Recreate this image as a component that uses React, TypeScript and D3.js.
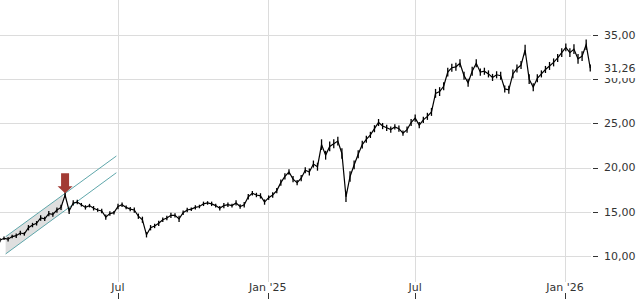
import React from "react";
import * as d3 from "d3";

const W = 640;
const H = 300;

// sampled every 5 calendar days starting 2024-02-07
const startDate = new Date(2024, 1, 7);
const stepDays = 5;
const closes = [
  11.8, 12.0, 11.9, 12.2, 12.3, 12.6, 12.5, 13.2, 13.5, 13.7,
  14.3, 14.2, 14.8, 14.7, 15.2, 15.5, 16.9, 15.1, 16.0, 16.1,
  15.8, 15.5, 15.7, 15.4, 15.2, 15.1, 14.4, 14.8, 14.9, 15.6,
  15.8, 15.5, 15.3, 15.2, 14.5, 14.1, 12.4, 13.2, 13.4, 13.7,
  14.1, 14.3, 14.6, 14.6, 14.2, 14.9, 15.2, 15.3, 15.5, 15.6,
  15.9, 16.0, 15.9, 15.7, 15.4, 15.7, 15.8, 15.7, 16.0, 15.6,
  15.8, 16.7, 17.1, 16.9, 16.8, 16.1, 16.6, 16.9, 17.4, 18.3,
  19.0, 19.5, 18.7, 18.3, 18.8, 19.7, 19.5, 20.4, 20.1, 22.6,
  21.4, 22.4, 22.7, 23.0, 21.6, 16.7, 19.0, 20.3, 21.5, 22.6,
  23.2, 23.7, 24.4, 25.1, 24.7, 24.5, 24.3, 24.6, 24.4, 23.9,
  24.3, 25.1, 25.6, 24.8, 25.4, 25.8, 26.3, 28.4, 28.6, 29.2,
  30.8, 31.3, 31.4, 31.8, 30.4, 29.6, 30.9, 31.8, 30.8, 30.9,
  30.6, 30.2, 30.5, 30.4, 28.9, 28.8, 30.6, 31.2, 31.6, 33.3,
  30.0, 29.1, 30.1, 30.6, 31.1, 31.5, 31.9, 32.4, 33.0, 33.6,
  33.0, 33.4, 32.3, 32.6, 33.9, 31.26,
];
// half of the daily high-low range around each sample
const halfRanges = [
  0.25, 0.2, 0.25, 0.2, 0.25, 0.25, 0.2, 0.3, 0.25, 0.25,
  0.3, 0.25, 0.3, 0.25, 0.3, 0.3, 0.3, 0.35, 0.3, 0.25,
  0.2, 0.25, 0.2, 0.25, 0.2, 0.25, 0.3, 0.25, 0.2, 0.3,
  0.25, 0.2, 0.25, 0.3, 0.3, 0.35, 0.3, 0.3, 0.25, 0.3,
  0.25, 0.25, 0.3, 0.25, 0.35, 0.25, 0.25, 0.2, 0.25, 0.2,
  0.25, 0.2, 0.25, 0.2, 0.25, 0.3, 0.25, 0.2, 0.3, 0.25,
  0.3, 0.3, 0.25, 0.25, 0.3, 0.3, 0.25, 0.3, 0.3, 0.35,
  0.35, 0.3, 0.35, 0.3, 0.35, 0.35, 0.4, 0.4, 0.45, 0.6,
  0.5, 0.55, 0.5, 0.5, 0.6, 0.6, 0.6, 0.5, 0.45, 0.45,
  0.4, 0.35, 0.4, 0.4, 0.35, 0.35, 0.35, 0.3, 0.35, 0.3,
  0.35, 0.4, 0.4, 0.35, 0.35, 0.4, 0.45, 0.5, 0.5, 0.45,
  0.5, 0.45, 0.45, 0.45, 0.45, 0.45, 0.5, 0.45, 0.4, 0.4,
  0.4, 0.4, 0.4, 0.45, 0.4, 0.45, 0.5, 0.45, 0.45, 0.6,
  0.55, 0.45, 0.45, 0.4, 0.4, 0.45, 0.45, 0.45, 0.5, 0.45,
  0.5, 0.55, 0.55, 0.55, 0.6, 0.4,
];

const yTicks = [10, 15, 20, 25, 30, 35];
const xTickDates = [new Date(2024, 6, 1), new Date(2025, 0, 1), new Date(2025, 6, 1), new Date(2026, 0, 1)];
const xTickLabels = ["Jul", "Jan '25", "Jul", "Jan '26"];

// trend channel (start/end dates, lower/upper prices)
const channelDates = [new Date(2024, 1, 14), new Date(2024, 5, 29)];
const channelLower = [10.23, 19.42];
const channelUpper = [12.18, 21.31];
const channelShadeEnd = new Date(2024, 3, 24);

const signalIndex = 16;
const lastPrice = 31.26;

const fmt = (v: number) => v.toFixed(2).replace(".", ",");

export default function App() {
  const x = d3.scaleTime().domain([xTickDates[0], xTickDates[3]]).range([118, 565]);
  const y = d3.scaleLinear().domain([10, 35]).range([256, 35]);

  const pts = closes.map((c, i) => ({ d: d3.timeDay.offset(startDate, i * stepDays), c, r: halfRanges[i] }));
  const line = d3
    .line<{ d: Date; c: number }>()
    .x((p) => x(p.d))
    .y((p) => y(p.c));

  const lerp = (arr: number[], t: Date) => {
    const s = d3.scaleTime().domain(channelDates).range(arr);
    return s(t);
  };
  const shade = [
    [x(channelDates[0]), y(channelUpper[0])],
    [x(channelShadeEnd), y(lerp(channelUpper, channelShadeEnd))],
    [x(channelShadeEnd), y(lerp(channelLower, channelShadeEnd))],
    [x(channelDates[0]), y(channelLower[0])],
  ];

  const sig = pts[signalIndex];
  const ax = x(sig.d);
  const ay = y(sig.c + sig.r) + 1;

  const font = "'DejaVu Sans', sans-serif";

  return (
    <svg width={W} height={H} style={{ position: "fixed", left: 0, top: 0, background: "#fff" }}>
      {/* grid */}
      {yTicks.map((t) => (
        <line key={"gy" + t} x1={0} x2={591} y1={Math.round(y(t)) + 0.5} y2={Math.round(y(t)) + 0.5} stroke="#dcdcdc" />
      ))}
      {xTickDates.map((d, i) => (
        <line key={"gx" + i} x1={Math.round(x(d)) + 0.5} x2={Math.round(x(d)) + 0.5} y1={0} y2={282} stroke="#dcdcdc" />
      ))}

      {/* channel */}
      <polygon points={shade.map((p) => p.join(",")).join(" ")} fill="#dfdfdf" />
      <line x1={x(channelDates[0])} y1={y(channelUpper[0])} x2={x(channelDates[1])} y2={y(channelUpper[1])} stroke="#5fa7ab" strokeWidth={1} />
      <line x1={x(channelDates[0])} y1={y(channelLower[0])} x2={x(channelDates[1])} y2={y(channelLower[1])} stroke="#5fa7ab" strokeWidth={1} />

      {/* series: daily range bars + close path */}
      <path d={line(pts) || ""} fill="none" stroke="#000" strokeWidth={1.2} strokeLinejoin="miter" />
      {pts.map((p, i) => (
        <line key={"b" + i} x1={x(p.d)} x2={x(p.d)} y1={y(p.c - p.r)} y2={y(p.c + p.r)} stroke="#000" strokeWidth={1.3} />
      ))}

      {/* signal arrow */}
      <path
        d={`M${ax - 4},${ay - 20} L${ax + 4},${ay - 20} L${ax + 4},${ay - 7} L${ax + 7.5},${ay - 7} L${ax},${ay} L${ax - 7.5},${ay - 7} L${ax - 4},${ay - 7} Z`}
        fill="#a23b34"
      />

      {/* right axis */}
      {yTicks.map((t) => (
        <g key={"ty" + t}>
          <line x1={593} x2={598} y1={Math.round(y(t)) + 0.5} y2={Math.round(y(t)) + 0.5} stroke="#333" />
          <text x={604} y={y(t)} dy="0.35em" fontFamily={font} fontSize={11} fill="#333">
            {fmt(t)}
          </text>
        </g>
      ))}
      <rect x={600} y={y(lastPrice) - 7} width={40} height={17} fill="#fff" />
      <text x={604} y={y(lastPrice)} dy="0.35em" fontFamily={font} fontSize={11} fill="#333">
        {fmt(lastPrice)}
      </text>

      {/* bottom axis */}
      {xTickDates.map((d, i) => (
        <g key={"tx" + i}>
          <text x={x(d)} y={291} textAnchor="middle" fontFamily={font} fontSize={11} fill="#333">
            {xTickLabels[i]}
          </text>
          <line x1={Math.round(x(d)) + 0.5} x2={Math.round(x(d)) + 0.5} y1={293} y2={299} stroke="#333" />
        </g>
      ))}
    </svg>
  );
}
